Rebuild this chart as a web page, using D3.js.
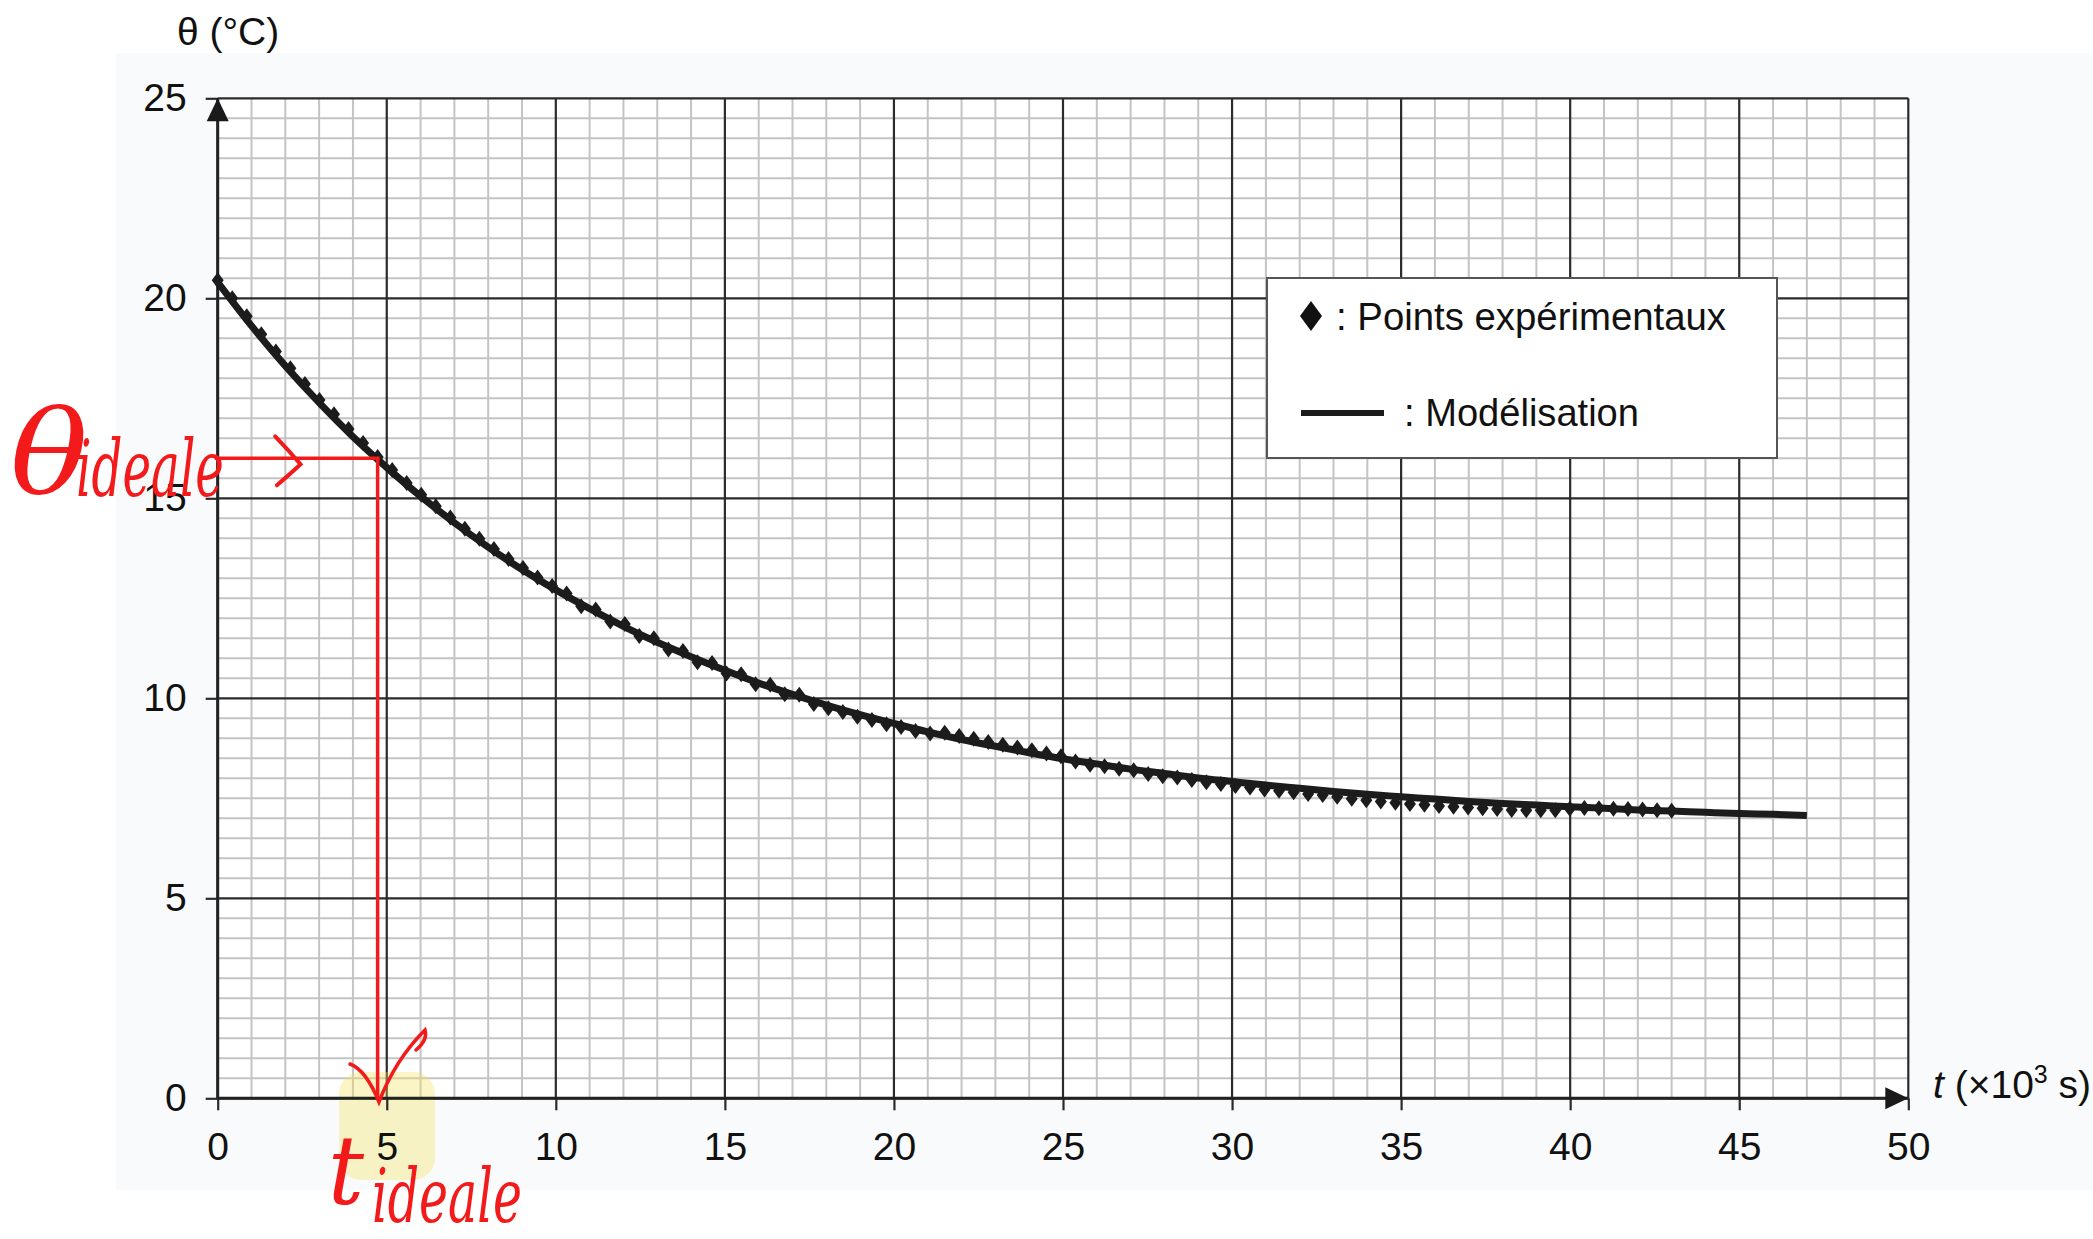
<!DOCTYPE html>
<html>
<head>
<meta charset="utf-8">
<script src="https://cdn.jsdelivr.net/npm/d3@7"></script>
<style>
  body { margin: 0; background: #fff; }
  svg { display: block; }
  .tick text { font-family: "Liberation Sans", Arial, sans-serif; font-size: 39px; fill: #111; }
  .lbl { font-family: "Liberation Sans", Arial, sans-serif; font-size: 39px; fill: #111; }
  .hand { font-family: "DejaVu Serif", serif; font-style: italic; fill: #f21a1a; }
</style>
</head>
<body>
<div id="chart"></div>
<script>
// Tick labels
var xTicks = [0, 5, 10, 15, 20, 25, 30, 35, 40, 45, 50];
var yTicks = [0, 5, 10, 15, 20, 25];

// Experimental points (t in 10^3 s, theta in °C)
var expT = [0, 0.43, 0.86, 1.29, 1.72, 2.15, 2.58, 3.01, 3.44, 3.87, 4.30, 4.73, 5.16, 5.59, 6.02, 6.45, 6.88,
  7.31, 7.74, 8.17, 8.60, 9.03, 9.46, 9.89, 10.32, 10.75, 11.18, 11.61, 12.04, 12.47, 12.90, 13.33, 13.76,
  14.19, 14.62, 15.05, 15.48, 15.91, 16.34, 16.77, 17.20, 17.63, 18.06, 18.49, 18.92, 19.35, 19.78, 20.21,
  20.64, 21.07, 21.50, 21.93, 22.36, 22.79, 23.22, 23.65, 24.08, 24.51, 24.94, 25.37, 25.80, 26.23, 26.66,
  27.09, 27.52, 27.95, 28.38, 28.81, 29.24, 29.67, 30.10, 30.53, 30.96, 31.39, 31.82, 32.25, 32.68, 33.11,
  33.54, 33.97, 34.40, 34.83, 35.26, 35.69, 36.12, 36.55, 36.98, 37.41, 37.84, 38.27, 38.70, 39.13, 39.56,
  39.99, 40.42, 40.85, 41.28, 41.71, 42.14, 42.57, 43.00];
var expTheta = [20.45, 20.00, 19.55, 19.10, 18.67, 18.25, 17.86, 17.46, 17.10, 16.73, 16.38, 16.03, 15.71,
  15.38, 15.09, 14.80, 14.52, 14.24, 13.99, 13.73, 13.48, 13.26, 13.02, 12.81, 12.62, 12.30, 12.22, 11.92,
  11.86, 11.56, 11.50, 11.22, 11.18, 10.90, 10.88, 10.62, 10.60, 10.35, 10.34, 10.10, 10.09, 9.86, 9.75,
  9.66, 9.54, 9.46, 9.35, 9.28, 9.18, 9.12, 9.14, 9.06, 8.99, 8.91, 8.84, 8.77, 8.70, 8.62, 8.55, 8.42,
  8.34, 8.30, 8.24, 8.20, 8.11, 8.05, 8.02, 7.96, 7.90, 7.86, 7.81, 7.77, 7.72, 7.69, 7.65, 7.61, 7.58,
  7.54, 7.49, 7.45, 7.42, 7.39, 7.36, 7.34, 7.31, 7.29, 7.27, 7.25, 7.23, 7.21, 7.20, 7.20, 7.20, 7.24,
  7.26, 7.25, 7.24, 7.23, 7.22, 7.20, 7.19];

// Model curve
var modelT = [0, 1, 2, 3, 4, 5, 6, 7, 8, 9, 10, 11, 12, 13, 14, 15, 16, 17, 18, 19, 20, 21, 22, 23, 24,
  25, 26, 27, 28, 29, 30, 31, 32, 33, 34, 35, 36, 37, 38, 39, 40, 41, 42, 43, 44, 45, 46, 47];
var modelTheta = [20.40, 19.31, 18.31, 17.39, 16.54, 15.77, 15.05, 14.39, 13.78, 13.22, 12.71, 12.24,
  11.80, 11.40, 11.04, 10.70, 10.38, 10.10, 9.83, 9.59, 9.37, 9.16, 8.97, 8.80, 8.64, 8.49, 8.36, 8.23,
  8.12, 8.01, 7.92, 7.83, 7.75, 7.67, 7.60, 7.54, 7.48, 7.42, 7.37, 7.33, 7.29, 7.25, 7.21, 7.18, 7.15,
  7.12, 7.10, 7.07];

// Red annotation (ideal point)
var idealTheta = 16;
var idealT = 4.73;

var width = 2093, height = 1239;

var svg = d3.select("#chart").append("svg")
    .attr("width", width)
    .attr("height", height);

// Scales
var x = d3.scaleLinear().domain([0, 50]).range([217.7, 1908.3]);
var y = d3.scaleLinear().domain([0, 25]).range([1098.3, 98.3]);

// scanned page background
svg.append("rect")
  .attr("x", 116).attr("y", 53)
  .attr("width", width - 116).attr("height", 1137)
  .attr("fill", "#f9fafc");

svg.append("rect")
  .attr("x", x(0)).attr("y", y(25))
  .attr("width", x(50) - x(0)).attr("height", y(0) - y(25))
  .attr("fill", "#fff");

// Minor grid
var grid = svg.append("g");
grid.selectAll(".vminor")
  .data(d3.range(1, 50, 1).filter(function(d) { return d % 5 != 0; }))
  .enter().append("line")
    .attr("x1", function(d) { return x(d); })
    .attr("x2", function(d) { return x(d); })
    .attr("y1", y(0)).attr("y2", y(25))
    .attr("stroke", "#c4c4c4").attr("stroke-width", 2);

grid.selectAll(".hminor")
  .data(d3.range(0.5, 25, 0.5).filter(function(d) { return d % 5 != 0; }))
  .enter().append("line")
    .attr("x1", x(0)).attr("x2", x(50))
    .attr("y1", function(d) { return y(d); })
    .attr("y2", function(d) { return y(d); })
    .attr("stroke", "#c4c4c4").attr("stroke-width", 2);

// Major grid
grid.selectAll(".vmajor")
  .data(xTicks)
  .enter().append("line")
    .attr("x1", function(d) { return x(d); })
    .attr("x2", function(d) { return x(d); })
    .attr("y1", y(0)).attr("y2", y(25))
    .attr("stroke", "#2b2b2b").attr("stroke-width", 2.2);

grid.selectAll(".hmajor")
  .data(yTicks)
  .enter().append("line")
    .attr("x1", x(0)).attr("x2", x(50))
    .attr("y1", function(d) { return y(d); })
    .attr("y2", function(d) { return y(d); })
    .attr("stroke", "#2b2b2b").attr("stroke-width", 2.2);

// Yellow highlight behind the "5" label
svg.append("rect")
  .attr("x", 339).attr("y", 1072)
  .attr("width", 96).attr("height", 108)
  .attr("rx", 22)
  .attr("fill", "#f3e35a")
  .attr("opacity", 0.35);

// Axes
var xAxis = d3.axisBottom(x).tickValues(xTicks).tickSize(12).tickPadding(22);
var yAxis = d3.axisLeft(y).tickValues(yTicks).tickSize(12).tickPadding(19);

svg.append("g")
  .attr("class", "axis x-axis")
  .attr("transform", "translate(0," + y(0) + ")")
  .call(xAxis)
  .call(function(g) { g.select(".domain").remove(); })
  .call(function(g) { g.selectAll(".tick line").attr("stroke", "#2b2b2b").attr("stroke-width", 2.2); });

svg.append("g")
  .attr("class", "axis y-axis")
  .attr("transform", "translate(" + x(0) + ",0)")
  .call(yAxis)
  .call(function(g) { g.select(".domain").remove(); })
  .call(function(g) { g.selectAll(".tick line").attr("stroke", "#2b2b2b").attr("stroke-width", 2.2); });

// Axis lines with arrows
svg.append("line")
  .attr("x1", x(0)).attr("x2", x(50))
  .attr("y1", y(0)).attr("y2", y(0))
  .attr("stroke", "#222").attr("stroke-width", 3);
svg.append("line")
  .attr("x1", x(0)).attr("x2", x(0))
  .attr("y1", y(0)).attr("y2", y(25))
  .attr("stroke", "#222").attr("stroke-width", 3);

svg.append("path")
  .attr("d", "M" + x(50) + "," + y(0) + "l-23,-11l0,22z")
  .attr("fill", "#1a1a1a");
svg.append("path")
  .attr("d", "M" + x(0) + "," + y(25) + "l-11,23l22,0z")
  .attr("fill", "#1a1a1a");

// Axis labels
svg.append("text")
  .attr("class", "lbl")
  .attr("x", 177).attr("y", 45)
  .text("θ (°C)");

var tl = svg.append("text")
  .attr("class", "lbl")
  .attr("x", 1933).attr("y", 1098);
tl.append("tspan").attr("font-style", "italic").text("t");
tl.append("tspan").text(" (×10");
tl.append("tspan").attr("font-size", "25px").attr("dy", -15).text("3");
tl.append("tspan").attr("dy", 15).text(" s)");

// Model line
var line = d3.line()
  .x(function(d, i) { return x(modelT[i]); })
  .y(function(d) { return y(d); })
  .curve(d3.curveMonotoneX);

svg.append("path")
  .attr("class", "line")
  .attr("d", line(modelTheta))
  .attr("stroke", "#1c1c1c")
  .attr("stroke-width", 7)
  .attr("fill", "none");

// Experimental points (diamonds)
function diamond(w, h) {
  return "M0," + (-h) + "L" + w + ",0L0," + h + "L" + (-w) + ",0Z";
}

svg.selectAll(".pt")
  .data(expTheta)
  .enter().append("path")
    .attr("class", "pt")
    .attr("transform", function(d, i) { return "translate(" + x(expT[i]) + "," + y(d) + ")"; })
    .attr("d", diamond(6, 8))
    .attr("fill", "#1c1c1c");

// Legend
var legend = svg.append("g");
legend.append("rect")
  .attr("x", 1267).attr("y", 278)
  .attr("width", 510).attr("height", 180)
  .attr("fill", "#fff")
  .attr("stroke", "#555").attr("stroke-width", 2);
legend.append("path")
  .attr("transform", "translate(1311,316)")
  .attr("d", diamond(11, 15))
  .attr("fill", "#111");
legend.append("text")
  .attr("class", "lbl")
  .attr("x", 1336).attr("y", 330)
  .attr("textLength", 390).attr("lengthAdjust", "spacingAndGlyphs")
  .text(": Points expérimentaux");
legend.append("line")
  .attr("x1", 1301).attr("x2", 1384)
  .attr("y1", 413).attr("y2", 413)
  .attr("stroke", "#1c1c1c").attr("stroke-width", 6);
legend.append("text")
  .attr("class", "lbl")
  .attr("x", 1404).attr("y", 426)
  .attr("textLength", 235).attr("lengthAdjust", "spacingAndGlyphs")
  .text(": Modélisation");

// Red handwritten annotations
var red = "#f21a1a";
var ann = svg.append("g");
ann.append("line")
  .attr("x1", x(0) - 3).attr("x2", x(idealT) + 2)
  .attr("y1", y(idealTheta)).attr("y2", y(idealTheta))
  .attr("stroke", red).attr("stroke-width", 3.5);
ann.append("line")
  .attr("x1", x(idealT)).attr("x2", x(idealT))
  .attr("y1", y(idealTheta)).attr("y2", y(0) + 2)
  .attr("stroke", red).attr("stroke-width", 3.5);
// chevron on horizontal line
ann.append("path")
  .attr("d", "M" + (x(1.7)) + "," + (y(idealTheta) - 22) + " Q" + x(2.1) + "," + (y(idealTheta) - 8) + " " + x(2.45) + "," + (y(idealTheta) + 6)
    + " Q" + x(2.2) + "," + (y(idealTheta) + 14) + " " + x(1.75) + "," + (y(idealTheta) + 27))
  .attr("fill", "none").attr("stroke", red).attr("stroke-width", 4).attr("stroke-linecap", "round");
// check mark
ann.append("path")
  .attr("d", "M350,1064 Q366,1070 379,1102 Q395,1060 425,1030 Q428,1040 416,1050")
  .attr("fill", "none").attr("stroke", red).attr("stroke-width", 3.5).attr("stroke-linecap", "round");

ann.append("text")
  .attr("class", "hand")
  .attr("x", 10).attr("y", 494)
  .attr("font-size", "116px")
  .attr("textLength", 78).attr("lengthAdjust", "spacingAndGlyphs")
  .text("θ");
ann.append("text")
  .attr("class", "hand")
  .attr("x", 76).attr("y", 496)
  .attr("font-size", "78px")
  .attr("textLength", 148).attr("lengthAdjust", "spacingAndGlyphs")
  .text("ideale");

ann.append("text")
  .attr("class", "hand")
  .attr("x", 328).attr("y", 1204)
  .attr("font-size", "96px")
  .attr("textLength", 36).attr("lengthAdjust", "spacingAndGlyphs")
  .text("t");
ann.append("text")
  .attr("class", "hand")
  .attr("x", 372).attr("y", 1222)
  .attr("font-size", "74px")
  .attr("textLength", 150).attr("lengthAdjust", "spacingAndGlyphs")
  .text("ideale");
</script>
</body>
</html>
